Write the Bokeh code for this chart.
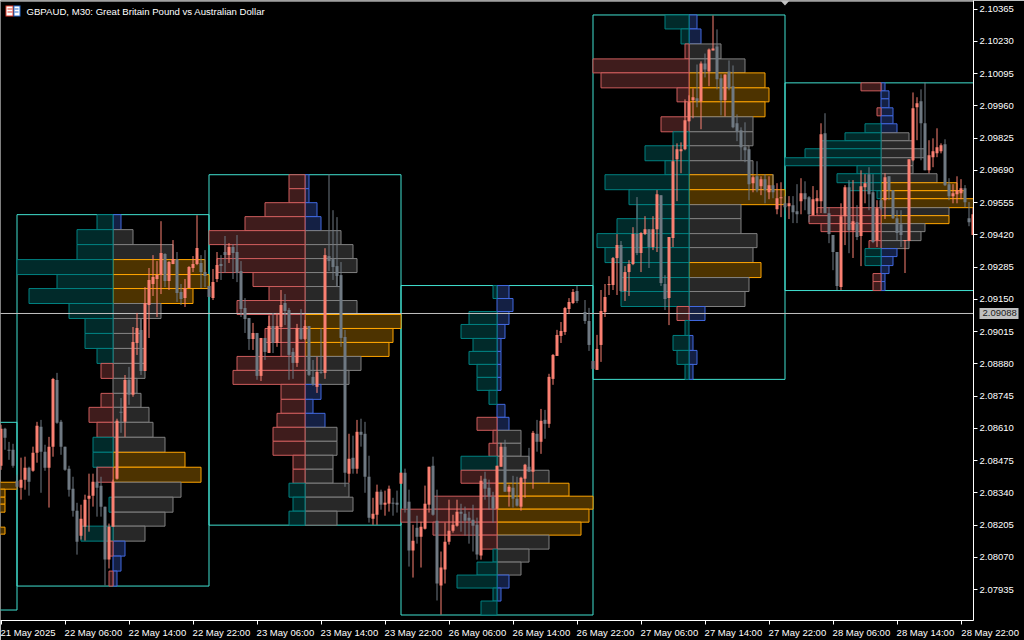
from bokeh.plotting import figure
from bokeh.embed import file_html
from bokeh.resources import INLINE
from bokeh.models import FixedTicker, Range1d, Label, BoxAnnotation, PolyAnnotation, Span, LinearAxis
import numpy as np

nan = float("nan")
SYMBOL = "GBPAUD, M30:  Great Britain Pound vs Australian Dollar"
BID = 2.09088
PRICE_TICKS = [2.10365, 2.10230, 2.10095, 2.09960, 2.09825, 2.09690, 2.09555, 2.09420, 2.09285,
               2.09150, 2.09015, 2.08880, 2.08745, 2.08610, 2.08475, 2.08340, 2.08205, 2.08070, 2.07935]
TIME_LABELS = ["21 May 2025", "22 May 06:00", "22 May 14:00", "22 May 22:00", "23 May 06:00", "23 May 14:00",
               "23 May 22:00", "26 May 06:00", "26 May 14:00", "26 May 22:00", "27 May 06:00", "27 May 14:00",
               "27 May 22:00", "28 May 06:00", "28 May 14:00", "28 May 22:00"]

# candle prices in points (0.00001)
OPEN = [208453,208608,208520,208520,208390,208361,208395,208445,208432,208507,
        208616,208512,208445,208533,208813,208637,208533,208441,208357,208265,
        208161,208198,208315,208328,208386,208370,208282,208060,208198,208399,
        208679,208637,208813,208750,208967,209022,208850,209126,209214,209235,
        209251,209339,209226,209297,209318,209180,209155,209197,209281,209297,
        209302,209264,209206,209155,209235,209297,209348,209335,209369,209348,
        209268,209114,209072,208984,209009,208829,208988,208925,209038,208967,
        209034,209134,209105,208930,208884,209030,208984,209038,208825,208783,
        208846,208842,209331,209318,209289,209251,208992,208420,208487,208441,
        208595,208587,208407,208232,208248,208344,208290,208294,208298,208298,
        208378,208424,208303,208098,208194,208156,208190,208290,208453,208223,
        207952,208018,208135,208181,208202,208261,208252,208236,208227,208206,
        208077,208399,208361,208324,208273,208449,208533,208344,208361,208315,
        208282,208399,208449,208428,208587,208553,208645,208629,208817,208913,
        208997,209013,209109,209134,209185,nan,209097,209059,208892,208854,
        208959,209097,209210,209210,209323,209377,209185,209264,209297,209423,
        209343,209423,209444,209369,209444,209586,209214,209155,209406,209736,
        209770,209778,209895,209983,209991,209979,210138,210104,210192,210209,
        210075,209983,210104,210042,209887,209858,209787,209778,209636,209665,
        209624,209653,209598,209628,209527,209573,209552,209540,209544,209519,
        209561,209594,209578,209502,209561,209561,209845,209511,209419,209348,
        209201,209498,209619,209440,209473,209415,209619,209674,209598,209398,
        209565,209565,209665,209607,209490,209465,209394,209394,209732,209954,
        209979,209887,209690,209745,209761,209770,209799,209632,209582,209590,
        209594,209615,209490,209419]
HIGH = [208625,208612,208553,208545,208415,208487,208491,208449,208533,208637,
        208645,208541,208574,208821,208842,208645,208533,208453,208407,208298,
        208290,208332,208420,208420,208449,208407,208282,208211,208395,208650,
        208737,208833,208867,209034,209093,209068,209201,209281,209335,209310,
        209477,209343,209310,209398,209348,209214,209235,209289,209331,209502,
        209335,209356,209206,209277,209348,209335,209415,209385,209381,209419,
        209310,209155,209072,209051,209009,208988,208988,209080,209093,209093,
        209189,209172,209114,208946,209047,209109,209063,209038,208896,208909,
        209030,209364,209674,209523,209494,209306,209022,208587,208579,208645,
        208650,208637,208495,208319,208374,208353,208349,208370,208319,208349,
        208424,208441,208353,208206,208244,208219,208370,208449,208491,208353,
        208094,208215,208311,208248,208311,208294,208282,208261,208290,208236,
        208411,208428,208395,208344,208453,208549,208562,208374,208411,208407,
        208407,208461,208528,208599,208645,208691,208687,208838,208921,209022,
        209055,209118,209155,209193,209206,nan,209147,209114,208892,209001,
        209189,209214,209247,209327,209423,209394,209289,209314,209452,209578,
        209431,209498,209444,209498,209607,209586,209251,209410,209795,209803,
        209807,209987,210004,210033,210133,210146,210179,210200,210338,210280,
        210092,210092,210150,210129,209924,209870,209891,209778,209669,209728,
        209665,209674,209665,209674,209636,209640,209582,209582,209582,209632,
        209657,209644,209582,209624,209607,209887,209929,209536,209419,209348,
        209552,209628,209649,209649,209544,209690,209674,209703,209674,209565,
        209607,209678,209665,209607,209523,209523,209398,209736,210016,209996,
        210029,210058,209816,209824,209866,209803,209820,209657,209632,209665,
        209653,209628,209557,209532]
LOW = [208436,208520,208478,208445,208353,208311,208353,208328,208428,208466,
       208340,208432,208278,208491,208629,208499,208432,208324,208240,208081,
       208144,208140,208177,208282,208240,208240,207952,208023,208198,208395,
       208591,208574,208708,208742,208917,208833,208850,208988,209164,209076,
       209172,209201,209189,209297,209139,209126,209118,209197,209264,209293,
       209197,209201,209160,209147,209222,209231,209260,209302,209235,209222,
       209076,209009,208938,208938,208813,208808,208896,208925,208925,208951,
       208967,209042,208813,208817,208867,208980,208980,208829,208788,208758,
       208838,208817,209268,209231,209201,208951,208365,208382,208420,208420,
       208533,208340,208215,208206,208206,208269,208244,208261,208244,208257,
       208378,208257,208031,207985,208127,208027,208186,208257,208244,207889,
       207830,207960,208123,208173,208198,208177,208161,208127,208094,208060,
       208060,208311,208269,208215,208273,208449,208344,208282,208278,208282,
       208265,208319,208428,208357,208512,208503,208566,208612,208792,208913,
       208967,209001,209088,209130,209134,nan,209047,208934,208859,208854,
       208888,209076,209168,209189,209168,209180,209143,209164,209293,209335,
       209264,209419,209281,209356,209348,209206,209105,209042,209369,209561,
       209678,209774,209895,209908,209954,209862,210079,210042,210192,210029,
       209920,209916,210025,209866,209812,209732,209724,209565,209598,209598,
       209586,209552,209569,209573,209506,209494,209523,209486,209469,209469,
       209506,209523,209473,209502,209511,209511,209511,209385,209272,209189,
       209189,209377,209343,209323,209398,209289,209552,209523,209385,209369,
       209523,209486,209565,209486,209398,209369,209260,209394,209728,209816,
       209732,209690,209678,209703,209745,209761,209624,209565,209552,209552,
       209569,209536,209456,209419]
CLOSE = [208608,208570,208516,208453,208365,208395,208445,208386,208507,208620,
         208512,208445,208533,208817,208633,208533,208436,208353,208265,208135,
         208232,208311,208328,208386,208361,208282,208060,208198,208386,208641,
         208675,208813,208750,208971,209030,208850,209134,209231,209243,209251,
         209343,209226,209306,209318,209176,209151,209197,209285,209297,209364,
         209264,209247,209160,209222,209293,209289,209335,209369,209343,209260,
         209109,209068,208984,209009,208829,208988,208930,209038,208967,209038,
         209126,209101,208917,208884,209030,208984,209038,208833,208792,208846,
         208842,209335,209310,209285,209247,208988,208424,208482,208441,208595,
         208583,208407,208236,208252,208344,208290,208298,208357,208294,208290,
         208424,208273,208098,208140,208156,208198,208294,208449,208248,207960,
         208027,208135,208181,208206,208261,208252,208223,208223,208202,208081,
         208390,208357,208324,208273,208453,208533,208344,208365,208315,208286,
         208403,208457,208428,208591,208553,208641,208629,208825,208917,209001,
         209017,209114,209139,209180,209143,nan,209059,208959,208859,208942,
         209101,209160,209214,209323,209377,209185,209264,209297,209423,209343,
         209427,209444,209369,209444,209590,209218,209151,209410,209728,209778,
         209778,209899,209975,209996,209979,210138,210113,210196,210200,210071,
         209983,210092,210033,209870,209853,209787,209774,209632,209661,209607,
         209653,209607,209628,209598,209573,209578,209536,209552,209515,209506,
         209594,209569,209506,209569,209573,209841,209511,209423,209348,209206,
         209498,209619,209440,209477,209410,209624,209636,209590,209389,209532,
         209532,209661,209607,209490,209427,209419,209398,209736,209950,209970,
         209887,209690,209753,209770,209787,209795,209628,209582,209594,209607,
         209615,209557,209473,209506]

# market profile per session: bar of session start, profile axis, session end, price high / low,
# per-row volume to the left and right, and row kind (t teal, r red / g gray, b blue, o orange)
S0_BARS = (-44, -20, 4)
S0_PRICES = (208637, 207851)
S0_LEFT = [0] * 25
S0_LKIND = "t" * 25
S0_RIGHT = [0,0,0,0,0,0,0,0,24,21,21,21,0,0,21,0,0,0,0,0,0,0,0,0,0]
S0_RKIND = "o" * 25

S1_BARS = (4, 28, 52)
S1_PRICES = (209504, 207950)
S1_LEFT = [4,9,9,24,14,21,11,7,7,4,3,0,3,6,4,5,5,4,0,1,0,8,1,0,1]
S1_LKIND = "tttttttttt" + "rrrrr" + "tt" + "r" + "tttt" + "rtr"
S1_RIGHT = [2,5,15,23,24,20,12,7,7,8,8,6,7,9,10,13,18,22,17,15,13,8,3,2,1]
S1_RKIND = "bgg" + "ooo" + "gggggggggg" + "oo" + "gggg" + "bbb"

S2_BARS = (52, 76, 100)
S2_PRICES = (209672, 208205)
S2_LEFT = [4,4,10,15,24,20,22,13,9,17,9,10,6,17,18,6,6,7,8,8,3,3,4,3,4]
S2_LKIND = "r" * 22 + "ttt"
S2_RIGHT = [1,1,3,4,9,12,13,8,9,13,24,22,21,14,11,4,2,5,8,8,7,7,11,12,8]
S2_RKIND = "bbbb" + "gggggg" + "ooo" + "gg" + "bbb" + "ggggggg"

S3_BARS = (100, 124, 148)
S3_PRICES = (209208, 207830)
S3_LEFT = [1,0,7,9,6,7,5,5,2,0,5,1,2,9,9,4,16,24,16,4,1,5,10,1,4]
S3_LKIND = "ttttttttt" + "rrrr" + "t" + "rrrrrr" + "ttttt"
S3_RIGHT = [3,4,3,2,1,1,1,1,0,2,3,6,6,8,13,18,24,23,21,13,8,6,3,1,0]
S3_RKIND = "bbbbbbbbbbb" + "gggg" + "oooo" + "ggg" + "bbb"

S4_BARS = (148, 172, 196)
S4_PRICES = (210341, 208816)
S4_LEFT = [6,2,1,24,22,3,1,7,4,11,6,21,15,13,18,23,21,17,17,17,3,1,4,3,1]
S4_LKIND = "tt" + "rrrrrr" + "tttttttttttt" + "r" + "tttt"
S4_RIGHT = [2,3,8,14,19,20,19,16,16,15,16,21,24,13,13,17,16,18,15,14,4,0,1,2,1]
S4_RKIND = "bbgg" + "ooo" + "gggg" + "oo" + "gggg" + "o" + "gg" + "bbbbb"

S5_BARS = (196, 220, 244)
S5_PRICES = (210057, 209188)
S5_LEFT = [5,0,0,1,0,4,9,15,19,24,6,11,8,1,0,16,18,15,2,3,4,4,0,2,2]
S5_LKIND = "rrrrr" + "ttttttttt" + "rrrrrr" + "ttt" + "rr"
S5_RIGHT = [1,2,2,3,3,4,7,8,11,8,8,14,19,21,24,17,17,11,10,7,4,3,2,1,1]
S5_RKIND = "bbbbbb" + "gggggg" + "ooo" + "g" + "o" + "ggg" + "bbbbb"

SESSIONS = [
    (S0_BARS, S0_PRICES, S0_LEFT, S0_LKIND, S0_RIGHT, S0_RKIND),
    (S1_BARS, S1_PRICES, S1_LEFT, S1_LKIND, S1_RIGHT, S1_RKIND),
    (S2_BARS, S2_PRICES, S2_LEFT, S2_LKIND, S2_RIGHT, S2_RKIND),
    (S3_BARS, S3_PRICES, S3_LEFT, S3_LKIND, S3_RIGHT, S3_RKIND),
    (S4_BARS, S4_PRICES, S4_LEFT, S4_LKIND, S4_RIGHT, S4_RKIND),
    (S5_BARS, S5_PRICES, S5_LEFT, S5_LKIND, S5_RIGHT, S5_RKIND),
]

FILL = {"t": "#012A2A", "r": "#3F1C1C", "g": "#282828", "b": "#142044", "o": "#4D3300"}
LINE = {"t": "#008080", "r": "#CD5C5C", "g": "#808080", "b": "#4169E1", "o": "#FFA500"}
BULL, BEAR = "#FA8072", "#6F7982"
FONT = "Liberation Sans"

TOP_PTS, PTS_PER_PX = 210401, 4.18
FRAME_W, FRAME_H = 973, 621
LAST_BAR_EDGE = FRAME_W / 4 - 0.125


def to_px(p):
    return (TOP_PTS - np.asarray(p, dtype=float)) / PTS_PER_PX


def to_price(py):
    return (TOP_PTS - np.asarray(py, dtype=float) * PTS_PER_PX) / 1e5


def crisp(p):
    return to_price(np.floor(to_px(p)) + 0.5)


def sy(y):
    # annotation "screen" heights count upward from the frame's bottom edge
    return FRAME_H - y


p = figure(width=1024, height=640, output_backend="svg", toolbar_location=None, y_axis_location="right",
           x_range=Range1d(-0.125, LAST_BAR_EDGE),
           y_range=Range1d(float(to_price(FRAME_H)), float(to_price(0))),
           min_border_left=0, min_border_top=0, min_border_right=1024 - FRAME_W, min_border_bottom=640 - FRAME_H,
           background_fill_color="black", border_fill_color="black", outline_line_color=None)
p.grid.visible = False

# price axis
ya = p.yaxis[0]
ya.ticker = FixedTicker(ticks=PRICE_TICKS)
ya.major_label_overrides = {t: f"{t:.5f}" for t in PRICE_TICKS}
ya.axis_line_color = "white"
ya.major_tick_line_color = "white"
ya.major_tick_out = 4
ya.major_tick_in = 0
ya.minor_tick_line_color = None
ya.major_label_standoff = 2
ya.major_label_text_color = "white"
ya.major_label_text_font = FONT
ya.major_label_text_font_size = "9.5px"

# bid tag: a second price axis beside the first, whose thick inward tick is the tag's plate
bid_y = float(to_price(313.5))
tag = LinearAxis(ticker=FixedTicker(ticks=[bid_y]),
                 major_label_overrides={bid_y: f"{BID:.5f}"},
                 axis_line_color=None, minor_tick_line_color=None,
                 major_tick_line_color="#C0C0C0", major_tick_line_width=11,
                 major_tick_in=37, major_tick_out=2, major_label_standoff=-36,
                 major_label_text_color="#202020", major_label_text_font=FONT,
                 major_label_text_font_size="9.5px")
p.add_layout(tag, "right")

# time axis: labels are written beside their ticks, hence the shifted label positions
tick_bars = [16 * k for k in range(len(TIME_LABELS))]
label_bars = [b + (6.75 if k == 0 else 7.1) for k, b in enumerate(tick_bars)]
time_overrides = {b: t for b, t in zip(label_bars[:-1], TIME_LABELS[:-1])}
# the last label runs past the frame: its tick sits on the frame's edge and non-breaking spaces push it right
last_tick = 243.0
time_overrides[last_tick] = "\u00a0" * 13 + TIME_LABELS[-1]
xa = p.xaxis[0]
xa.ticker = FixedTicker(ticks=label_bars[:-1] + [last_tick], minor_ticks=tick_bars)
xa.major_label_overrides = time_overrides
xa.axis_line_color = "white"
xa.major_tick_line_color = None
xa.major_tick_out = 0
xa.major_tick_in = 0
xa.minor_tick_line_color = "white"
xa.minor_tick_out = 4
xa.minor_tick_in = 0
xa.major_label_standoff = 2
xa.major_label_text_color = "white"
xa.major_label_text_font = FONT
xa.major_label_text_font_size = "9.5px"

p.add_layout(Span(location=float(to_price(0.5)), dimension="width", line_color="white", line_width=1))

# session frames
fb0, fb1, ft, fbm = [], [], [], []
for bars, prices, *_ in SESSIONS:
    fb0.append(bars[0]); fb1.append(bars[2]); ft.append(prices[0]); fbm.append(prices[1])
p.quad(left=fb0, right=fb1, top=crisp(ft), bottom=crisp(fbm), fill_color=None, line_color="#40E0D0", line_width=1)

# profile rows: right side first, left side over it
for side in ("right", "left"):
    for bars, prices, left, lkind, right, rkind in SESSIONS:
        assert len(left) == len(lkind) == len(right) == len(rkind) == 25
        edges = crisp(np.linspace(prices[0], prices[1], 26))
        vols, kinds, sgn = (right, rkind, 1) if side == "right" else (left, lkind, -1)
        idx = [i for i, v in enumerate(vols) if v > 0]
        if not idx:
            continue
        x0 = [bars[1]] * len(idx)
        x1 = [bars[1] + sgn * vols[i] for i in idx]
        p.quad(left=x0, right=x1, top=edges[idx], bottom=edges[[i + 1 for i in idx]],
               fill_color=[FILL[kinds[i]] for i in idx], line_color=[LINE[kinds[i]] for i in idx], line_width=1)

# bid line
p.segment(x0=[-1], x1=[FRAME_W / 4], y0=[bid_y], y1=[bid_y], line_color="#C0C0C0", line_width=1)

# candles
o, h, l, c = [np.array(a, dtype=float) for a in (OPEN, HIGH, LOW, CLOSE)]
bars = np.arange(len(o))
colors = [BULL if cc >= oo else BEAR for oo, cc in zip(o, c)]
p.segment(x0=bars, x1=bars, y0=h / 1e5, y1=l / 1e5, line_color=colors, line_width=1)
tp = np.round(to_px(np.maximum(o, c)))
bp = np.maximum(np.round(to_px(np.minimum(o, c))), tp + 1)
p.quad(left=bars - 0.375, right=bars + 0.375, top=to_price(tp), bottom=to_price(bp),
       fill_color=colors, line_color=None)


def box(x0, x1, y0, y1, color, level="annotation"):
    p.add_layout(BoxAnnotation(left=x0, right=x1, top=sy(y0), bottom=sy(y1), left_units="screen",
                               right_units="screen", top_units="screen", bottom_units="screen",
                               fill_color=color, fill_alpha=1, line_color=None, line_alpha=0, level=level))


# symbol header
p.add_layout(Label(x=26, y=sy(11.5), x_units="screen", y_units="screen", text=SYMBOL, text_color="white",
                   text_font=FONT, text_font_size="9.6px", text_baseline="middle"))

box(5, 13, 6, 17, "#E0392B")
box(13, 20, 6, 17, "#2A6FD0")
box(6, 12, 7, 16, "white")
box(14, 19, 7, 16, "white")
for yy in (9, 12):
    box(7, 12, yy, yy + 1, "#E0392B")
    box(14, 18, yy, yy + 1, "#2A6FD0")

# chart-shift marker
p.add_layout(PolyAnnotation(xs=[779, 790, 784.5], ys=[sy(0), sy(0), sy(6)], xs_units="screen", ys_units="screen",
                            fill_color="#C0C0C0", fill_alpha=1, line_color=None))

open("out.html", "w").write(file_html(p, INLINE))
